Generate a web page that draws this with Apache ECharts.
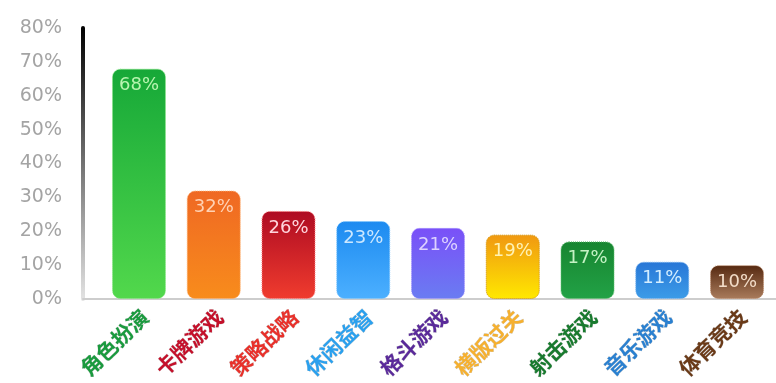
<!DOCTYPE html>
<html>
<head>
<meta charset="utf-8">
<script src="https://cdn.jsdelivr.net/npm/echarts@6/dist/echarts.min.js"></script>
<style>
  html, body { margin: 0; padding: 0; background: #ffffff; }
  #chart { width: 776px; height: 383px; }
</style>
</head>
<body>
<div id="chart"></div>
<script>
// Game genre share (%)
const categories = ['角色扮演', '卡牌游戏', '策略战略', '休闲益智', '格斗游戏', '横版过关', '射击游戏', '音乐游戏', '体育竞技'];
const values = [68, 32, 26, 23, 21, 19, 17, 11, 10];
const yTicks = [0, 10, 20, 30, 40, 50, 60, 70, 80];

// Per-bar styling: gradient top/bottom, dotted border, label text, category label
const barTop    = ['#16a838', '#ef6823', '#ae0b22', '#1c8af0', '#7a50f8', '#f09812', '#178530', '#2876d6', '#552810'];
const barBottom = ['#52d84c', '#f88c1c', '#f03c2e', '#4cb0ff', '#6a7cf2', '#ffe800', '#22a246', '#3c9ce8', '#aa7c5c'];
const barBorder = ['#8ae884', '#ffb070', '#ff8080', '#80c8ff', '#a898ff', '#d09000', '#60c070', '#80b8f0', '#c09070'];
const valueText = ['#b8f5b0', '#ffd2b4', '#ffd4dc', '#cce8ff', '#ded2ff', '#fff2b4', '#c4f2c4', '#d4eeff', '#f2dcc8'];
const catColor  = ['#1a9a3e', '#c4102a', '#e8302a', '#2aa0ee', '#5a2a9a', '#f5b030', '#187a2e', '#2a80d0', '#6a3a18'];

const chart = echarts.init(document.getElementById('chart'), null, { renderer: 'canvas' });

const gridTop = 28, gridBottom = 84;

const barData = values.map((v, i) => ({
  value: v,
  itemStyle: {
    color: new echarts.graphic.LinearGradient(0, 0, 0, 1, [
      { offset: 0, color: barTop[i] },
      { offset: 1, color: barBottom[i] }
    ]),
    borderColor: barBorder[i],
    borderWidth: 1,
    borderType: 'dotted',
    borderRadius: 8
  },
  label: { color: valueText[i] }
}));

chart.setOption({
  animation: false,
  backgroundColor: '#ffffff',
  grid: [
    // axis frame
    { left: 83, right: 0, top: gridTop, bottom: gridBottom },
    // bars
    { left: 101.6, right: 1.6, top: gridTop, bottom: gridBottom }
  ],
  xAxis: [
    {
      gridIndex: 0,
      type: 'category',
      data: [''],
      axisLine: { show: true, lineStyle: { color: '#cdcdcd', width: 2 } },
      axisTick: { show: false },
      axisLabel: { show: false }
    },
    {
      gridIndex: 1,
      type: 'category',
      data: categories,
      axisLine: { show: false },
      axisTick: { show: false },
      axisLabel: {
        rotate: 44,
        margin: 20,
        padding: [0, -8, 0, 0],
        interval: 0,
        fontFamily: 'Noto Sans CJK SC',
        fontWeight: 'bold',
        fontSize: 21,
        color: (val) => catColor[categories.indexOf(val)],
        textBorderColor: 'rgba(0,0,0,0.22)',
        textBorderWidth: 0.6
      }
    }
  ],
  yAxis: [
    {
      gridIndex: 0,
      type: 'value',
      min: yTicks[0],
      max: yTicks[yTicks.length - 1],
      interval: 10,
      splitLine: { show: false },
      axisTick: { show: false },
      axisLine: {
        show: true,
        lineStyle: {
          width: 4,
          color: new echarts.graphic.LinearGradient(0, 0, 0, 1, [
            { offset: 0, color: '#000000' },
            { offset: 1, color: '#e4e4e4' }
          ])
        }
      },
      axisLabel: {
        margin: 21,
        fontFamily: 'DejaVu Sans',
        fontSize: 19,
        color: '#a4a4a4',
        formatter: '{value}%'
      }
    },
    {
      gridIndex: 1,
      type: 'value',
      min: yTicks[0],
      max: yTicks[yTicks.length - 1],
      show: false
    }
  ],
  series: [
    {
      type: 'bar',
      xAxisIndex: 1,
      yAxisIndex: 1,
      barWidth: 54,
      data: barData,
      label: {
        show: true,
        position: 'insideTop',
        distance: 8,
        fontFamily: 'DejaVu Sans',
        fontSize: 18,
        formatter: '{c}%'
      }
    }
  ]
});
</script>
</body>
</html>
